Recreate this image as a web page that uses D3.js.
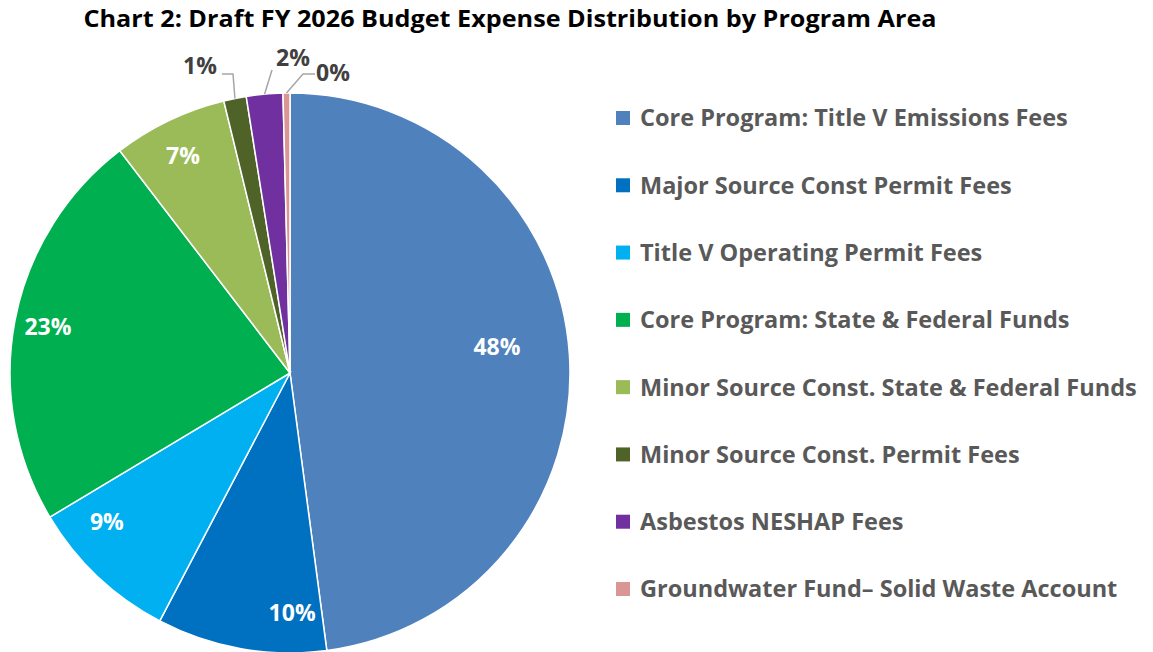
<!DOCTYPE html>
<html>
<head>
<meta charset="utf-8">
<script src="https://cdn.jsdelivr.net/npm/d3@7"></script>
<style>
  body { margin: 0; background: #fff; }
  text { font-family: "Open Sans", Lato, sans-serif; font-weight: bold; }
</style>
</head>
<body>
<svg id="chart" width="1153" height="652"></svg>
<script>
// program areas, in pie order (clockwise from 12 o'clock)
const programs = [
  "Core Program: Title V Emissions Fees",
  "Major Source Const Permit Fees",
  "Title V Operating Permit Fees",
  "Core Program: State & Federal Funds",
  "Minor Source Const. State & Federal Funds",
  "Minor Source Const. Permit Fees",
  "Asbestos NESHAP Fees",
  "Groundwater Fund\u2013 Solid Waste Account"
];
// share of budget, percent
const shares = [47.9, 9.8, 8.7, 23.2, 6.6, 1.3, 2.1, 0.4];
const labels = ["48%", "10%", "9%", "23%", "7%", "1%", "2%", "0%"];
const colors = ["#4f81bd", "#0070c0", "#00b0f0", "#00b050", "#9bbb59", "#4f6228", "#7030a0", "#d99694"];

const svg = d3.select("#chart");
const cx = 290, cy = 373, r = 280;

svg.append("text")
  .attr("x", 510).attr("y", 27)
  .attr("text-anchor", "middle")
  .attr("font-size", 23)
  .attr("textLength", 853)
  .attr("lengthAdjust", "spacingAndGlyphs")
  .attr("fill", "#000")
  .text("Chart 2: Draft FY 2026 Budget Expense Distribution by Program Area");

const pie = d3.pie().sort(null).value(d => d);
const arcs = pie(shares);
const arc = d3.arc().innerRadius(0).outerRadius(r);

const g = svg.append("g").attr("transform", `translate(${cx},${cy})`);

g.selectAll("path")
  .data(arcs)
  .join("path")
    .attr("d", arc)
    .attr("fill", (d, i) => colors[i])
    .attr("stroke", "#fff")
    .attr("stroke-width", 1.5);

// polar helper, angle in radians from 12 o'clock
const polar = (a, rad) => [rad * Math.sin(a), -rad * Math.cos(a)];

// inside labels: position within slice (fraction of slice span) and radius factor
const inside = [
  {i: 0, f: 0.48, k: 0.745},
  {i: 1, f: 0.2, k: 0.857},
  {i: 2, f: 0.74, k: 0.843},
  {i: 3, f: 0.5, k: 0.88},
  {i: 4, f: 0.47, k: 0.864}
];
inside.forEach(o => {
  const d = arcs[o.i];
  const a = d.startAngle + o.f * (d.endAngle - d.startAngle);
  const [x, y] = polar(a, o.k * r);
  g.append("text")
    .attr("x", x).attr("y", y)
    .attr("dy", "0.36em")
    .attr("text-anchor", "middle")
    .attr("font-size", 23)
    .attr("fill", "#fff")
    .text(labels[o.i]);
});

// outside labels with leader lines
const outside = [
  {i: 5, lx: 200, ly: 66, pts: [[222, 74], [233, 74]]},
  {i: 6, lx: 293, ly: 58, pts: [[272, 70]]},
  {i: 7, lx: 333, ly: 73, pts: [[315, 74], [303, 74]]}
];
outside.forEach(o => {
  const d = arcs[o.i];
  const mid = (d.startAngle + d.endAngle) / 2;
  const [ex, ey] = polar(mid, r);
  const line = o.pts.map(p => [p[0] - cx, p[1] - cy]).concat([[ex, ey]]);
  g.append("path")
    .attr("d", d3.line()(line))
    .attr("fill", "none")
    .attr("stroke", "#a6a6a6")
    .attr("stroke-width", 1.5);
  svg.append("text")
    .attr("x", o.lx).attr("y", o.ly)
    .attr("dy", "0.36em")
    .attr("text-anchor", "middle")
    .attr("font-size", 23)
    .attr("fill", "#404040")
    .text(labels[o.i]);
});

// legend
const ly = d3.scalePoint().domain(programs).range([118, 589]);
const leg = svg.append("g").selectAll("g")
  .data(programs)
  .join("g")
    .attr("transform", d => `translate(616,${ly(d)})`);
leg.append("rect")
  .attr("x", 0).attr("y", -7)
  .attr("width", 14).attr("height", 14)
  .attr("fill", (d, i) => colors[i]);
leg.append("text")
  .attr("x", 24).attr("y", 0)
  .attr("dy", "0.36em")
  .attr("font-size", 23.5)
  .attr("fill", "#595959")
  .text(d => d);
</script>
</body>
</html>
